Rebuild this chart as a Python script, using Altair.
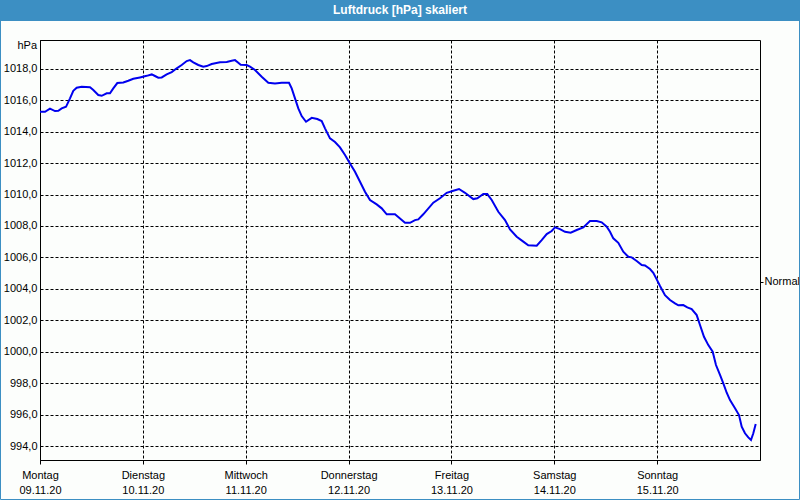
import json
import altair as alt
import pandas as pd

# ---- data (hours since Monday 09.11.20 00:00, pressure in hPa) ----
hours = [0, 1.17, 2.33, 3.5, 4.27, 5.06, 6.07, 7.0, 7.77, 8.56, 9.73, 11.67, 12.44, 13.6, 14.4,
         15.56, 16.33, 17.1, 18.04, 19.44, 20.6, 21.77, 23.33, 24.9, 26.07, 26.83, 27.6, 28.4,
         29.56, 30.73, 31.9, 33.06, 34.23, 35.0, 35.77, 36.94, 38.1, 38.9, 40.06, 42.0, 43.56,
         44.73, 45.5, 46.27, 46.83, 48.23, 49.0, 50.17, 51.73, 53.27, 54.83, 56.4, 58.1, 58.73,
         59.5, 60.27, 61.06, 62.07, 63.4, 64.7, 65.73, 66.5, 67.67, 68.83, 70.0, 71.17, 72.33,
         73.5, 74.67, 75.83, 77.0, 78.56, 79.73, 80.9, 82.83, 84.0, 85.17, 86.33, 87.5, 88.27,
         89.43, 91.77, 93.33, 94.9, 96.43, 97.77, 99.17, 101.1, 102.04, 103.44, 104.37, 105.4,
         106.94, 108.5, 109.67, 111.23, 112.77, 113.93, 115.9, 117.06, 118.23, 119.4, 120.17,
         121.33, 122.5, 123.83, 125.23, 126.77, 128.33, 129.9, 131.06, 132.23, 133.0, 133.77,
         134.94, 136.1, 137.27, 138.06, 139.23, 140.4, 141.17, 142.33, 143.1, 143.9, 144.67,
         145.83, 147.0, 148.17, 148.94, 150.1, 151.04, 152.06, 153.23, 154.0, 154.93, 155.94,
         156.96, 157.73, 158.67, 159.44, 160.23, 161.0, 162.17, 163.1, 163.73, 164.5, 165.27,
         165.9, 166.44, 167.0]
pressure = [1015.26, 1015.26, 1015.46, 1015.31, 1015.33, 1015.48, 1015.58, 1016.12, 1016.60,
            1016.79, 1016.85, 1016.82, 1016.65, 1016.33, 1016.28, 1016.44, 1016.44, 1016.75,
            1017.09, 1017.13, 1017.24, 1017.36, 1017.45, 1017.55, 1017.64, 1017.54, 1017.43,
            1017.45, 1017.64, 1017.79, 1018.03, 1018.24, 1018.49, 1018.55, 1018.41, 1018.24,
            1018.13, 1018.17, 1018.30, 1018.41, 1018.43, 1018.51, 1018.55, 1018.38, 1018.25,
            1018.24, 1018.13, 1017.92, 1017.49, 1017.11, 1017.07, 1017.11, 1017.11, 1016.75,
            1016.12, 1015.48, 1014.99, 1014.63, 1014.88, 1014.80, 1014.67, 1014.21, 1013.57,
            1013.34, 1013.0, 1012.51, 1011.98, 1011.45, 1010.81, 1010.18, 1009.65, 1009.37,
            1009.12, 1008.74, 1008.74, 1008.48, 1008.20, 1008.20, 1008.37, 1008.42, 1008.74,
            1009.48, 1009.76, 1010.11, 1010.24, 1010.35, 1010.11, 1009.71, 1009.76, 1010.03,
            1010.03, 1009.65, 1008.90, 1008.37, 1007.78, 1007.31, 1007.0, 1006.77, 1006.74,
            1007.10, 1007.48, 1007.68, 1007.91, 1007.80, 1007.63, 1007.57, 1007.74, 1007.91,
            1008.31, 1008.31, 1008.23, 1007.95, 1007.63, 1007.21, 1006.93, 1006.36, 1006.04,
            1006.0, 1005.77, 1005.51, 1005.49, 1005.26, 1005.02, 1004.60, 1004.18, 1003.60,
            1003.29, 1003.08, 1002.95, 1002.97, 1002.82, 1002.71, 1002.33, 1001.70, 1000.95,
            1000.42, 1000.0, 999.15, 998.52, 997.99, 997.39, 996.92, 996.40, 995.97, 995.23,
            994.81, 994.55, 994.38, 994.81, 995.40]

day_ticks = [0, 24, 48, 72, 96, 120, 144]
day_names = ["Montag", "Dienstag", "Mittwoch", "Donnerstag", "Freitag", "Samstag", "Sonntag"]
day_dates = ["09.11.20", "10.11.20", "11.11.20", "12.11.20", "13.11.20", "14.11.20", "15.11.20"]
y_ticks = [994, 996, 998, 1000, 1002, 1004, 1006, 1008, 1010, 1012, 1014, 1016, 1018]
normal_value = [1004.45]
normal_label = ["Normal"]
unit_label = ["hPa"]
title_text = ["Luftdruck [hPa] skaliert"]

FONT = "Liberation Sans"
BLUE_FRAME = "#3c8fc3"
BG = "#fcfefc"

df = pd.DataFrame({"h": hours, "p": pressure})
x_scale = alt.Scale(domain=[0, 168], nice=False, zero=False)
y_scale = alt.Scale(domain=[993.11, 1019.83], nice=False, zero=False)

x_label_expr = "[{n}[round(datum.value/24)], {d}[round(datum.value/24)]]".format(
    n=json.dumps(day_names), d=json.dumps(day_dates))

# frame decoration (title bar + outer border), outside the plot area
deco_src = pd.DataFrame({"t": title_text})
title_bar = alt.Chart(deco_src).mark_rect(color=BLUE_FRAME, clip=False).encode(
    x=alt.value(-40), x2=alt.value(760), y=alt.value(-40), y2=alt.value(-19))
border = alt.Chart(deco_src).mark_rect(
    fill=None, fillOpacity=0, stroke=BLUE_FRAME, strokeWidth=1, clip=False
).encode(x=alt.value(-39.5), x2=alt.value(759.5), y=alt.value(-39.5), y2=alt.value(459.5))
title = alt.Chart(deco_src).mark_text(
    color="white", font=FONT, fontSize=12, fontWeight="bold", clip=False
).encode(x=alt.value(360), y=alt.value(-30), text="t:N")

unit = alt.Chart(pd.DataFrame({"u": unit_label})).mark_text(
    font=FONT, fontSize=11, color="black", align="right", clip=False
).encode(x=alt.value(-3), y=alt.value(6), text="u:N")

line = alt.Chart(df).mark_line(color="#0000ee", strokeWidth=2, clip=True).encode(
    x=alt.X("h:Q", scale=x_scale, axis=alt.Axis(
        values=day_ticks, title=None, grid=True, gridDash=[3, 2], gridColor="black",
        gridOpacity=1, gridWidth=1, domainColor="black", tickColor="black", tickSize=4,
        labelExpr=x_label_expr, labelFont=FONT, labelFontSize=11, labelColor="black",
        labelLineHeight=15, labelPadding=5, labelBaseline="top", labelFlush=False,
        labelOverlap=False)),
    y=alt.Y("p:Q", scale=y_scale, axis=alt.Axis(
        values=y_ticks, title=None, grid=True, gridDash=[3, 2], gridColor="black",
        gridOpacity=1, gridWidth=1, domainColor="black", ticks=False, tickSize=0,
        labelExpr="replace(format(datum.value, '.1f'), '.', ',')",
        labelFont=FONT, labelFontSize=11, labelColor="black", labelPadding=3,
        labelOverlap=False)),
)

normal = alt.Chart(pd.DataFrame({"p": normal_value})).mark_point(opacity=0).encode(
    y=alt.Y("p:Q", scale=y_scale, axis=alt.Axis(
        orient="right", values=normal_value, title=None, grid=False, domain=False,
        tickColor="black", tickSize=3, labelExpr=json.dumps(normal_label[0]),
        labelFont=FONT, labelFontSize=11, labelColor="black", labelPadding=1)),
)

chart = alt.layer(title_bar, border, title, unit, line, normal).resolve_axis(
    y="independent"
).properties(
    width=720, height=420,
    autosize=alt.AutoSizeParams(type="none"),
    padding={"left": 40, "top": 40, "right": 40, "bottom": 40},
    background=BG,
).configure_view(stroke="black", strokeWidth=1, fill=BG)

chart.save("out.html", embed_options={"renderer": "svg", "actions": False})
